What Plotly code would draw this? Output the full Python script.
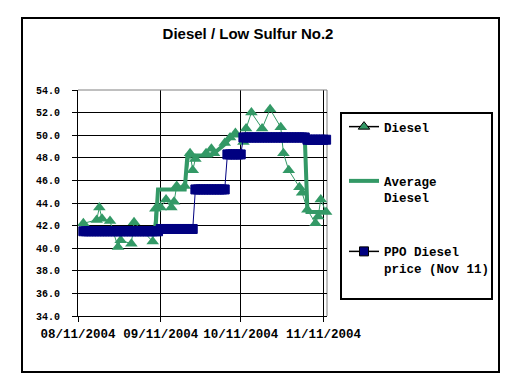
import plotly.graph_objects as go
import pandas as pd

# ---------------- data ----------------
diesel_dates = ["2004-08-13", "2004-08-18", "2004-08-19", "2004-08-20", "2004-08-23",
                "2004-08-26", "2004-08-27", "2004-08-31", "2004-09-01", "2004-09-08",
                "2004-09-09", "2004-09-11", "2004-09-13", "2004-09-15", "2004-09-16",
                "2004-09-17", "2004-09-20", "2004-09-22", "2004-09-23", "2004-09-24",
                "2004-09-28", "2004-09-30", "2004-10-01", "2004-10-05", "2004-10-07",
                "2004-10-09", "2004-10-12", "2004-10-13", "2004-10-15", "2004-10-19",
                "2004-10-22", "2004-10-26", "2004-10-27", "2004-10-29", "2004-11-02",
                "2004-11-03", "2004-11-05", "2004-11-08", "2004-11-09", "2004-11-10",
                "2004-11-12"]
diesel_values = [42.2, 42.5, 43.6, 42.6, 42.4,
                 40.1, 40.7, 40.4, 42.3, 40.6,
                 43.5, 43.6, 44.3, 43.6, 44.1,
                 45.5, 45.5, 48.4, 46.9, 47.9,
                 48.4, 48.8, 48.4, 49.3, 49.8,
                 50.2, 49.4, 50.6, 52.0, 50.6,
                 52.3, 50.7, 48.4, 46.9, 45.4,
                 44.9, 43.4, 42.2, 42.8, 44.3,
                 43.2]

avg_dates = ["2004-08-13", "2004-09-09", "2004-09-10", "2004-09-20", "2004-09-21",
             "2004-09-30", "2004-10-05", "2004-10-08", "2004-11-04", "2004-11-05",
             "2004-11-12"]
avg_values = [41.5, 41.5, 45.2, 45.2, 48.2,
              48.2, 49.2, 50.0, 49.9, 43.2,
              43.2]

# PPO price periods (start, end, price)
ppo_starts = ["2004-08-13", "2004-09-11", "2004-09-24", "2004-10-06", "2004-10-12", "2004-11-05"]
ppo_ends = ["2004-09-10", "2004-09-23", "2004-10-05", "2004-10-11", "2004-11-04", "2004-11-12"]
ppo_prices = [41.5, 41.7, 45.2, 48.3, 49.8, 49.6]

y_ticks = [34, 36, 38, 40, 42, 44, 46, 48, 50, 52, 54]
x_tick_dates = ["2004-08-11", "2004-09-11", "2004-10-11", "2004-11-11"]
x_tick_labels = ["08/11/2004", "09/11/2004", "10/11/2004", "11/11/2004"]

# daily PPO points built from the periods
ppo_x, ppo_y = [], []
for s, e, p in zip(ppo_starts, ppo_ends, ppo_prices):
    for d in pd.date_range(s, e):
        ppo_x.append(d)
        ppo_y.append(p)

GREEN = "#339966"
NAVY = "#000080"

fig = go.Figure()

fig.add_trace(go.Scatter(
    x=diesel_dates, y=diesel_values, mode="lines+markers", name="Diesel",
    line=dict(color=GREEN, width=1),
    marker=dict(symbol="triangle-up", size=11, color=GREEN, line=dict(color=GREEN, width=0)),
    showlegend=False, cliponaxis=False))
fig.add_trace(go.Scatter(
    x=avg_dates, y=avg_values, mode="lines", name="Average Diesel",
    line=dict(color=GREEN, width=4), showlegend=False, cliponaxis=False))
fig.add_trace(go.Scatter(
    x=ppo_x, y=ppo_y, mode="lines+markers", name="PPO Diesel price (Nov 11)",
    line=dict(color=NAVY, width=1),
    marker=dict(symbol="square", size=9, color=NAVY, line=dict(color=NAVY, width=1)),
    showlegend=False, cliponaxis=False))

# legend entries (same styles as the Excel legend)
fig.add_trace(go.Scatter(
    x=[None], y=[None], mode="lines+markers", name="Diesel", legendgroup="a",
    line=dict(color="black", width=1.5),
    marker=dict(symbol="triangle-up", size=10, color=GREEN, line=dict(color="black", width=1))))
fig.add_trace(go.Scatter(
    x=[None], y=[None], mode="lines", name="Average<br>Diesel", legendgroup="b",
    line=dict(color=GREEN, width=4)))
fig.add_trace(go.Scatter(
    x=[None], y=[None], mode="lines+markers", name="PPO Diesel<br>price (Nov 11)", legendgroup="c",
    line=dict(color="black", width=1.5),
    marker=dict(symbol="square", size=9, color=NAVY, line=dict(color="black", width=1))))

# page has an 8px body margin: all pixel positions below are relative to the figure
OFF = 8
L, R, T, B = 78 - OFF, 327 - OFF, 90 - OFF, 316 - OFF
W, H = 516 - OFF, 380 - OFF
pw, ph = R - L, B - T


def px_x(v):
    return (v - OFF - L) / pw


def px_y(v):
    return (B - (v - OFF)) / ph


fig.update_layout(
    width=W, height=H,
    margin=dict(l=L, r=W - R, t=T, b=H - B, autoexpand=False),
    paper_bgcolor="white", plot_bgcolor="white",
    title=dict(text="<b>Diesel / Low Sulfur No.2</b>", x=(248 - OFF) / W, xanchor="center",
               y=1 - (34 - OFF) / H, yanchor="middle",
               font=dict(family="Liberation Sans", size=15, color="black")),
    showlegend=True,
    legend=dict(x=px_x(344), y=px_y(112), xanchor="left", yanchor="top",
                bgcolor="rgba(0,0,0,0)", borderwidth=0,
                traceorder="grouped", tracegroupgap=35, valign="top",
                font=dict(family="Liberation Mono", size=12.5, color="black", weight="bold")),
    xaxis=dict(
        type="date", range=["2004-08-11", "2004-11-12 08:00"],
        tickvals=x_tick_dates, ticktext=x_tick_labels,
        showgrid=True, gridcolor="black", gridwidth=1,
        showline=True, linecolor="black", linewidth=1,
        ticks="outside", ticklen=5, tickcolor="black",
        ticklabelstandoff=1, zeroline=False,
        tickfont=dict(family="Liberation Mono", size=12.5, color="black", weight="bold")),
    yaxis=dict(
        range=[34, 54], tickvals=y_ticks, tickformat=".1f",
        showgrid=True, gridcolor="black", gridwidth=1,
        showline=True, linecolor="black", linewidth=1,
        ticks="outside", ticklen=5, tickcolor="black",
        ticklabelstandoff=10, zeroline=False,
        tickfont=dict(family="Liberation Mono", size=10, color="black", weight="bold")),
    shapes=[
        # gray top and right plot border
        dict(type="line", xref="paper", yref="paper", x0=0, x1=1, y0=1, y1=1,
             line=dict(color="#808080", width=1), layer="above"),
        dict(type="line", xref="paper", yref="paper", x0=1, x1=1, y0=0, y1=1,
             line=dict(color="#808080", width=1), layer="below"),
        # legend box
        dict(type="rect", xref="paper", yref="paper",
             x0=px_x(341), x1=px_x(492), y0=px_y(299), y1=px_y(113),
             line=dict(color="black", width=2), fillcolor="rgba(0,0,0,0)", layer="above"),
        # outer chart frame
        dict(type="rect", xref="paper", yref="paper",
             x0=px_x(22), x1=px_x(499), y0=px_y(372), y1=px_y(18),
             line=dict(color="black", width=2), fillcolor="rgba(0,0,0,0)", layer="above"),
    ],
)

fig.write_html("out.html")
